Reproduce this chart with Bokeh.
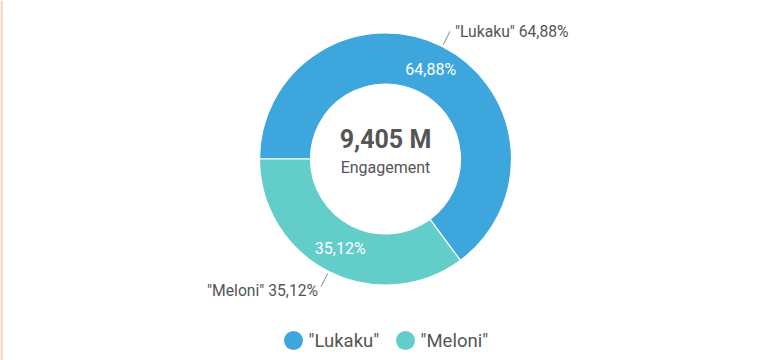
import math
from bokeh.plotting import figure
from bokeh.models import Range1d, ColumnDataSource, Span
from bokeh.core.properties import value
from bokeh.embed import file_html
from bokeh.resources import INLINE

# ---- data ----
names = ['"Lukaku"', '"Meloni"']
shares = [64.88, 35.12]
share_labels = ["64,88%", "35,12%"]
colors = ["#3da6dc", "#63cdca"]
total_label = "9,405 M"
total_caption = "Engagement"

FONT = "Roboto"
W, H = 770, 360
p = figure(width=W, height=H, x_range=Range1d(0, W), y_range=Range1d(0, H),
           output_backend="svg", toolbar_location=None, min_border=0,
           background_fill_color="white", border_fill_color="white")
p.axis.visible = False
p.grid.visible = False
p.outline_line_color = None

# thin left frame edge
p.add_layout(Span(location=1, dimension="height", line_color="#f7cdb0", line_width=2))

cx, cy = 385, H - 158.5
r_in, r_out = 75, 126

total = sum(shares)
starts, ends, mids = [], [], []
a = math.pi
for s in shares:
    span = s / total * 2 * math.pi
    a_end = a - span
    starts.append(a_end)
    ends.append(a)
    mids.append(a - span / 2)
    a = a_end

src = ColumnDataSource(dict(x=[cx] * len(shares), y=[cy] * len(shares),
                            start=starts, end=ends, color=colors))
p.annular_wedge(x="x", y="y", inner_radius=r_in, outer_radius=r_out,
                start_angle="start", end_angle="end", direction="anticlock",
                fill_color="color", line_color="white", line_width=1.2, source=src)

# inner percentage labels
r_mid = (r_in + r_out) / 2
p.text(x=[cx + r_mid * math.cos(m) for m in mids],
       y=[cy + r_mid * math.sin(m) for m in mids],
       text=share_labels, text_color="white", text_font=value(FONT),
       text_font_size="16px", text_align="center", text_baseline="middle")

# outside labels with leader lines
for nm, lab, m in zip(names, share_labels, mids):
    c, s = math.cos(m), math.sin(m)
    x0, y0 = cx + 128 * c, cy + 128 * s
    x1, y1 = cx + 143 * c, cy + 143 * s
    p.line([x0, x1], [y0, y1], line_color="#888888", line_width=1)
    right = c >= 0
    tx = x1 + 5 if right else x1 - 3
    ty = y1 - (0 if s > 0 else 4)
    p.text(x=[tx], y=[ty], text=[f"{nm} {lab}"], text_color="#555555",
           text_font=value(FONT), text_font_size="15.7px",
           text_align="left" if right else "right", text_baseline="middle")

# center texts
p.text(x=[cx], y=[cy + 20], text=[total_label], text_color="#555555",
       text_font=value(FONT), text_font_size="25px", text_font_style="bold",
       text_align="center", text_baseline="middle")
p.text(x=[cx], y=[cy - 8], text=[total_caption], text_color="#555555",
       text_font=value(FONT), text_font_size="16px",
       text_align="center", text_baseline="middle")

# legend
leg_x = [293, 405]
leg_y = H - 340
p.scatter(x=leg_x, y=[leg_y] * 2, size=19, marker="circle",
          fill_color=colors, line_color=None)
p.text(x=[lx + 15 for lx in leg_x], y=[leg_y] * 2, text=names,
       text_color="#555555", text_font=value(FONT), text_font_size="18.5px",
       text_align="left", text_baseline="middle")

open("out.html", "w").write(file_html(p, INLINE))
